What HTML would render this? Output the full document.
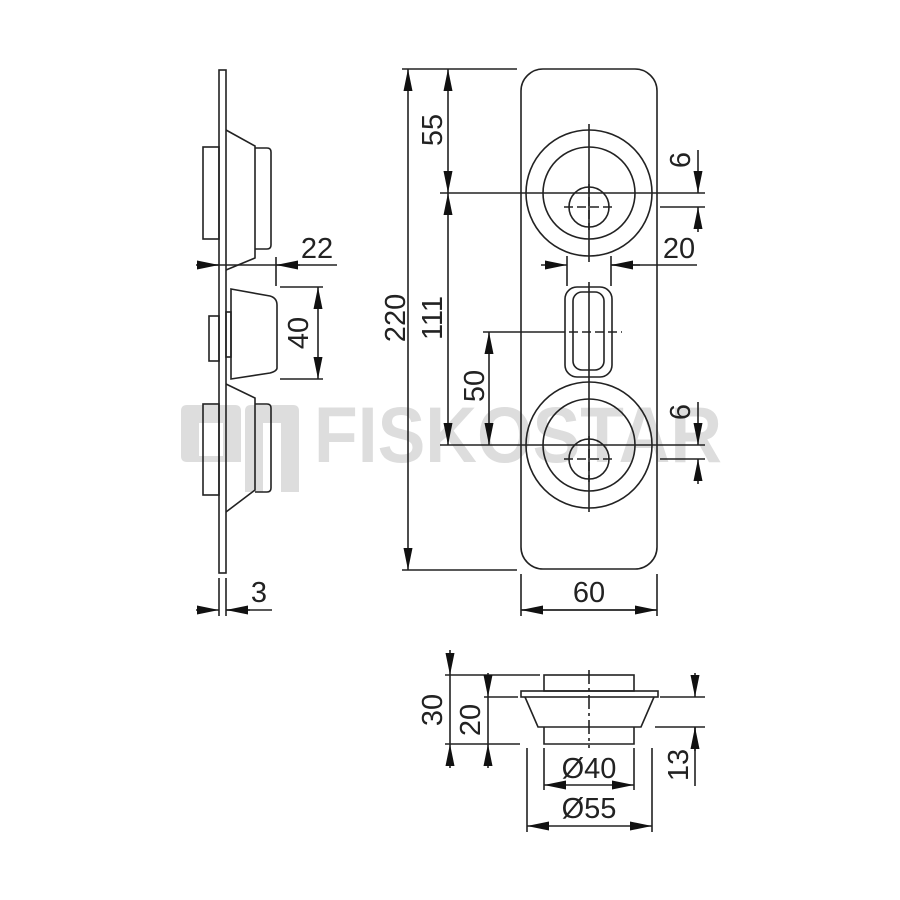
<!DOCTYPE html>
<html><head><meta charset="utf-8"><style>
html,body{margin:0;padding:0;background:#fff}
svg{display:block}
text{font-family:"Liberation Sans",sans-serif;font-size:29px;fill:#222}
</style></head><body>
<svg width="900" height="900" viewBox="0 0 900 900" xmlns="http://www.w3.org/2000/svg">
<defs>
<marker id="a" markerUnits="userSpaceOnUse" markerWidth="24" markerHeight="10" refX="22" refY="4.5" orient="auto">
<path d="M0,0 L22,4.5 L0,9 z" fill="#111"/>
</marker>
</defs>
<!-- watermark -->
<g fill="#dddddd">
<path d="M181,411 q0,-6 6,-6 h48 q6,0 6,6 v51 h-18 v-39 h-24 v33 h24 v6 h-36 q-6,0 -6,-6 z"/>
<path d="M245,411 q0,-6 6,-6 h42 q6,0 6,6 v81 h-18 v-69 h-18 v69 h-18 z"/>
<text x="314" y="462" textLength="408" lengthAdjust="spacingAndGlyphs" style="font-size:79px;font-weight:bold;fill:#dddddd">FISKOSTAR</text>
</g>
<g fill="none" stroke="#222" stroke-width="1.6">
<!-- side view -->
<rect x="219" y="70" width="7" height="503"/>
<rect x="203" y="147" width="16" height="92"/>
<path d="M226,130 L255,146 L255,258 L226,270"/>
<path d="M255,148 H267 q4,0 4,4 V245 q0,4 -4,4 H255"/>
<rect x="209" y="316" width="10" height="45"/>
<rect x="226" y="312" width="5" height="45"/>
<path d="M231,289 L270,296 Q277,298 277,305 V368 Q277,371 270,373 L231,379 Z"/>
<rect x="203" y="404" width="16" height="91"/>
<path d="M226,384 L255,398 L255,490 L226,512"/>
<path d="M255,404 H267 q4,0 4,4 V488 q0,4 -4,4 H255"/>
<!-- 22 -->
<line x1="200" y1="265" x2="337" y2="265"/>
<line x1="276" y1="257" x2="276" y2="286"/>
<!-- 40 -->
<line x1="280" y1="287" x2="323" y2="287"/>
<line x1="280" y1="379" x2="323" y2="379"/>
<!-- 3 -->
<line x1="219" y1="578" x2="219" y2="616"/>
<line x1="226" y1="578" x2="226" y2="616"/>
<line x1="226" y1="610" x2="272" y2="610"/>
<!-- front plate -->
<rect x="521" y="69" width="136" height="500" rx="22"/>
<circle cx="589" cy="193" r="63"/>
<circle cx="589" cy="193" r="46"/>
<circle cx="589" cy="207" r="20"/>
<circle cx="589" cy="445" r="63"/>
<circle cx="589" cy="445" r="46"/>
<circle cx="589" cy="459" r="20"/>
<rect x="565" y="287" width="47" height="90" rx="12"/>
<rect x="573" y="292" width="31" height="78" rx="9"/>
<!-- centerlines -->
<line x1="589" y1="124" x2="589" y2="262"/>
<line x1="589" y1="282" x2="589" y2="384"/>
<line x1="589" y1="384" x2="589" y2="512"/>
<line x1="402" y1="69" x2="517" y2="69"/>
<line x1="440" y1="193" x2="705" y2="193"/>
<line x1="440" y1="445" x2="705" y2="445"/>
<line x1="402" y1="570" x2="517" y2="570"/>
<line x1="483" y1="332" x2="556" y2="332"/>
<line x1="660" y1="207" x2="705" y2="207"/>
<line x1="660" y1="459" x2="705" y2="459"/>
<line x1="567" y1="256" x2="567" y2="286"/>
<line x1="611" y1="256" x2="611" y2="286"/>
<line x1="611" y1="265" x2="697" y2="265"/>
<line x1="521" y1="574" x2="521" y2="616"/>
<line x1="657" y1="574" x2="657" y2="616"/>
<line x1="521" y1="610" x2="657" y2="610"/>
<!-- bottom view -->
<rect x="544" y="675" width="90" height="16"/>
<rect x="521" y="691" width="137" height="6"/>
<path d="M525,697 L538,727 L641,727 L654,697"/>
<path d="M544,727 V744 H634 V727"/>
<line x1="445" y1="675" x2="540" y2="675"/>
<line x1="445" y1="744" x2="520" y2="744"/>
<line x1="484" y1="697" x2="518" y2="697"/>
<line x1="660" y1="697" x2="705" y2="697"/>
<line x1="655" y1="727" x2="705" y2="727"/>
<line x1="544" y1="748" x2="544" y2="790"/>
<line x1="634" y1="748" x2="634" y2="790"/>
<line x1="527" y1="748" x2="527" y2="832"/>
<line x1="652" y1="748" x2="652" y2="832"/>
<line x1="450" y1="675" x2="450" y2="744"/>
<line x1="488" y1="697" x2="488" y2="744"/>
<line x1="695" y1="727" x2="695" y2="786"/>
</g>
<!-- dashed -->
<g fill="none" stroke="#222" stroke-width="1.6" stroke-dasharray="9,4">
<line x1="564" y1="207" x2="614" y2="207"/>
<line x1="589" y1="184" x2="589" y2="230"/>
<line x1="564" y1="459" x2="614" y2="459"/>
<line x1="589" y1="436" x2="589" y2="482"/>
<line x1="556" y1="332" x2="622" y2="332"/>
<line x1="589" y1="670" x2="589" y2="748" stroke-dasharray="14,4,3,4"/>
</g>
<!-- arrows -->
<g stroke="#222" stroke-width="1.6" marker-end="url(#a)">
<line x1="408" y1="320" x2="408" y2="69"/>
<line x1="408" y1="320" x2="408" y2="570"/>
<line x1="448" y1="130" x2="448" y2="69"/>
<line x1="448" y1="130" x2="448" y2="193"/>
<line x1="448" y1="320" x2="448" y2="193"/>
<line x1="448" y1="320" x2="448" y2="445"/>
<line x1="489" y1="390" x2="489" y2="332"/>
<line x1="489" y1="390" x2="489" y2="445"/>
<line x1="589" y1="610" x2="521" y2="610"/>
<line x1="589" y1="610" x2="657" y2="610"/>
<line x1="698" y1="150" x2="698" y2="193"/>
<line x1="698" y1="232" x2="698" y2="207"/>
<line x1="698" y1="402" x2="698" y2="445"/>
<line x1="698" y1="484" x2="698" y2="459"/>
<line x1="541" y1="265" x2="567" y2="265"/>
<line x1="640" y1="265" x2="611" y2="265"/>
<line x1="196" y1="265" x2="219" y2="265"/>
<line x1="300" y1="265" x2="276" y2="265"/>
<line x1="318" y1="333" x2="318" y2="287"/>
<line x1="318" y1="333" x2="318" y2="379"/>
<line x1="196" y1="610" x2="219" y2="610"/>
<line x1="250" y1="610" x2="226" y2="610"/>
<line x1="450" y1="650" x2="450" y2="675"/>
<line x1="450" y1="768" x2="450" y2="744"/>
<line x1="488" y1="673" x2="488" y2="697"/>
<line x1="488" y1="768" x2="488" y2="744"/>
<line x1="695" y1="673" x2="695" y2="697"/>
<line x1="695" y1="751" x2="695" y2="727"/>
<line x1="589" y1="785" x2="544" y2="785"/>
<line x1="589" y1="785" x2="634" y2="785"/>
<line x1="589" y1="826" x2="527" y2="826"/>
<line x1="589" y1="826" x2="652" y2="826"/>
</g>
<!-- labels -->
<text x="317" y="258" text-anchor="middle">22</text>
<text x="259" y="602" text-anchor="middle">3</text>
<text x="589" y="602" text-anchor="middle">60</text>
<text x="679" y="258" text-anchor="middle">20</text>
<text x="589" y="778" text-anchor="middle">Ø40</text>
<text x="589" y="818" text-anchor="middle">Ø55</text>
<text transform="translate(308,333) rotate(-90)" text-anchor="middle">40</text>
<text transform="translate(405,318) rotate(-90)" text-anchor="middle">220</text>
<text transform="translate(442,130) rotate(-90)" text-anchor="middle">55</text>
<text transform="translate(442,318) rotate(-90)" text-anchor="middle">111</text>
<text transform="translate(484,386) rotate(-90)" text-anchor="middle">50</text>
<text transform="translate(690,160) rotate(-90)" text-anchor="middle">6</text>
<text transform="translate(690,412) rotate(-90)" text-anchor="middle">6</text>
<text transform="translate(442,710) rotate(-90)" text-anchor="middle">30</text>
<text transform="translate(480,720) rotate(-90)" text-anchor="middle">20</text>
<text transform="translate(688,765) rotate(-90)" text-anchor="middle">13</text>
</svg>
</body></html>
